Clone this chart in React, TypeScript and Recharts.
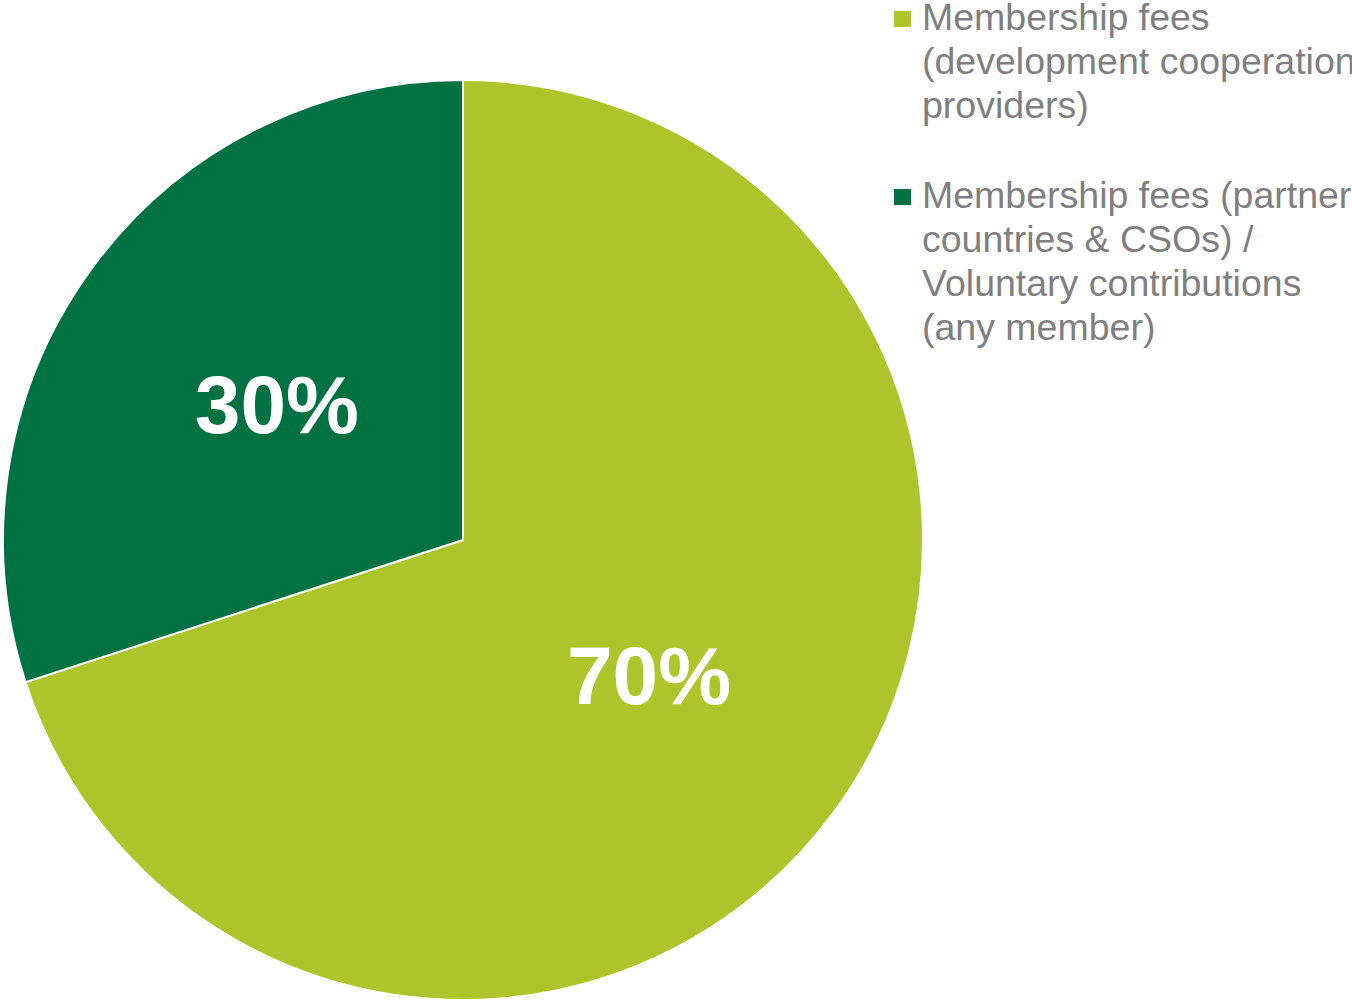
import React from "react";
import { PieChart, Pie, Cell, Legend } from "recharts";

const categories = [
  "Membership fees (development cooperation providers)",
  "Membership fees (partner countries & CSOs) / Voluntary contributions (any member)",
];
const shares = [70, 30];
const colors = ["#ADC42B", "#007142"];
const legendLines = [
  ["Membership fees", "(development cooperation", "providers)"],
  ["Membership fees (partner", "countries & CSOs) /", "Voluntary contributions", "(any member)"],
];

const data = categories.map((name, i) => ({ name, value: shares[i] }));

const RAD = Math.PI / 180;

const renderLabel = (props: any) => {
  const { cx, cy, midAngle, outerRadius, percent } = props;
  const r = outerRadius * 0.5;
  const x = cx + r * Math.cos(-midAngle * RAD);
  const y = cy + r * Math.sin(-midAngle * RAD);
  return (
    <text
      x={x}
      y={y}
      fill="#FFFFFF"
      textAnchor="middle"
      dominantBaseline="central"
      style={{ fontFamily: "'Liberation Sans', Arial, sans-serif", fontWeight: 700, fontSize: 82 }}
    >
      {`${Math.round(percent * 100)}%`}
    </text>
  );
};

const LegendContent = (props: any) => {
  const payload = props.payload || [];
  return (
    <div style={{ fontFamily: "'Liberation Sans', Arial, sans-serif", fontSize: 37.5, lineHeight: "44px", color: "#7F7F7F" }}>
      {payload.map((entry: any, i: number) => {
        const idx = categories.indexOf(entry.value);
        const lines = legendLines[idx >= 0 ? idx : i];
        return (
          <div key={i} style={{ display: "flex", alignItems: "flex-start", marginBottom: i === 0 ? 46 : 0 }}>
            <div style={{ width: 17, height: 16, marginTop: 16, background: entry.color, flex: "none" }} />
            <div style={{ marginLeft: 11, whiteSpace: "nowrap" }}>
              {lines.map((l: string, j: number) => (
                <div key={j}>{l}</div>
              ))}
            </div>
          </div>
        );
      })}
    </div>
  );
};

export default function App() {
  return (
    <div style={{ position: "absolute", left: 0, top: 0, width: 1352, height: 1002, overflow: "hidden", background: "#FFFFFF" }}>
      <PieChart width={1352} height={1002} margin={{ top: 0, right: 0, bottom: 0, left: 0 }}>
        <Pie
          data={data}
          dataKey="value"
          nameKey="name"
          cx={463}
          cy={540}
          outerRadius={460}
          startAngle={90}
          endAngle={-270}
          stroke="#FFFFFF"
          strokeWidth={2}
          label={renderLabel}
          labelLine={false}
          isAnimationActive={false}
        >
          {data.map((d, i) => (
            <Cell key={d.name} fill={colors[i]} />
          ))}
        </Pie>
        <Legend
          layout="vertical"
          align="right"
          verticalAlign="top"
          content={<LegendContent />}
          wrapperStyle={{ left: 894, top: -5, width: 600, right: "auto" }}
        />
      </PieChart>
    </div>
  );
}
